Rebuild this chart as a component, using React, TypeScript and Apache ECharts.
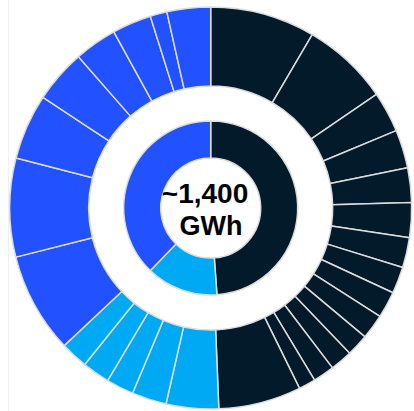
import React, { useEffect, useRef } from "react";
import * as echarts from "echarts";

// Inner ring (GWh)
const innerNames = ["Dark group", "Light blue group", "Blue group"];
const innerValues = [684, 187, 529];

// Outer ring segments (GWh), clockwise from 12 o'clock
const navyValues = [118, 98, 46, 43, 39, 39, 34, 30, 30, 28, 25, 25, 24, 19, 93];
const lightValues = [59, 39, 31, 31, 31];
const blueValues = [113, 111, 74, 60, 48, 44, 19, 49];

const centerLine1 = "~1,400";
const centerLine2 = "GWh";

const NAVY = "#031a2b";
const LIGHT = "#00a9f4";
const BLUE = "#2251ff";
const innerColors = [NAVY, LIGHT, BLUE];

export default function App() {
  const ref = useRef<HTMLDivElement>(null);
  useEffect(() => {
    if (!ref.current) return;
    const chart = echarts.init(ref.current, undefined, { renderer: "svg" });
    const outerData = [
      ...navyValues.map((v, i) => ({ name: "N" + (i + 1), value: v, itemStyle: { color: NAVY } })),
      ...lightValues.map((v, i) => ({ name: "L" + (i + 1), value: v, itemStyle: { color: LIGHT } })),
      ...blueValues.map((v, i) => ({ name: "B" + (i + 1), value: v, itemStyle: { color: BLUE } })),
    ];
    const innerData = innerValues.map((v, i) => ({
      name: innerNames[i],
      value: v,
      itemStyle: { color: innerColors[i] },
    }));
    chart.setOption({
      animation: false,
      backgroundColor: "#ffffff",
      graphic: [
        {
          type: "line",
          shape: { x1: 8.5, y1: 0, x2: 8.5, y2: 411 },
          style: { stroke: "#f0f0f0", lineWidth: 1 },
          silent: true,
        },
        {
          type: "text",
          x: 205,
          y: 193.5,
          z: 10,
          style: {
            text: centerLine1,
            font: "bold 28px 'Liberation Sans', Arial, sans-serif",
            fill: "#000000",
            align: "center",
            verticalAlign: "middle",
          },
        },
        {
          type: "text",
          x: 211,
          y: 225.5,
          z: 10,
          style: {
            text: centerLine2,
            font: "bold 27px 'Liberation Sans', Arial, sans-serif",
            fill: "#000000",
            align: "center",
            verticalAlign: "middle",
          },
        },
      ],
      series: [
        {
          type: "pie",
          center: [210.7, 208],
          radius: [50, 87],
          startAngle: 90,
          clockwise: true,
          label: { show: false },
          labelLine: { show: false },
          silent: true,
          itemStyle: { borderColor: "#dcdcdc", borderWidth: 1.5 },
          data: innerData,
        },
        {
          type: "pie",
          center: [210.7, 208],
          radius: [122, 201],
          startAngle: 90,
          clockwise: true,
          label: { show: false },
          labelLine: { show: false },
          silent: true,
          itemStyle: { borderColor: "#dcdcdc", borderWidth: 1.5 },
          data: outerData,
        },
      ],
    });
    return () => chart.dispose();
  }, []);
  return (
    <div
      ref={ref}
      style={{ position: "fixed", left: 0, top: 0, width: 414, height: 411 }}
    />
  );
}
